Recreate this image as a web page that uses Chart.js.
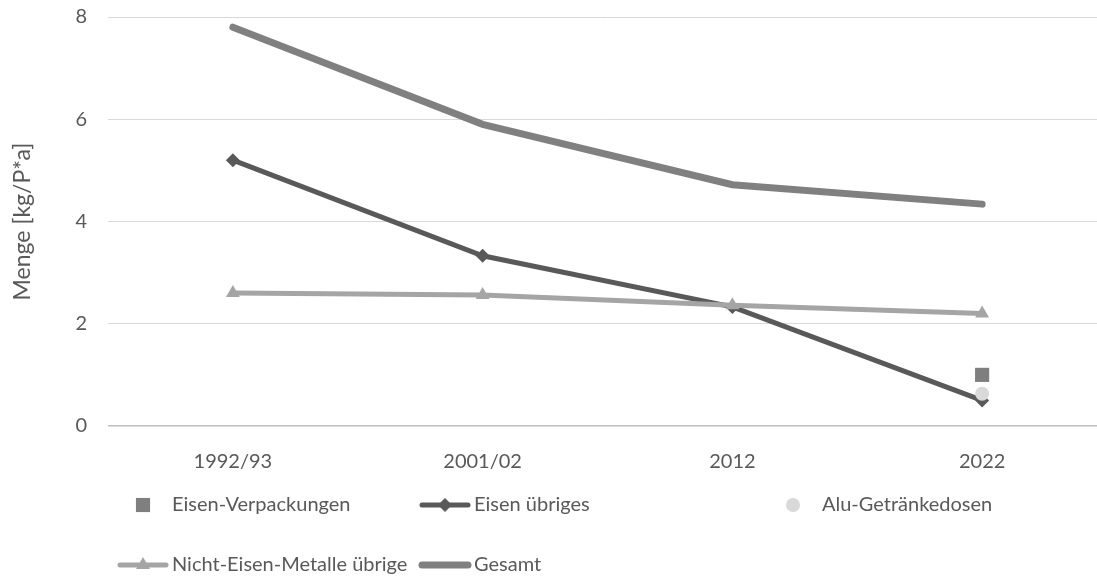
<!DOCTYPE html>
<html>
<head>
<meta charset="utf-8">
<script src="https://cdn.jsdelivr.net/npm/chart.js@4"></script>
<style>
  html, body { margin: 0; padding: 0; overflow: hidden; background: #fff; }
  #wrap { position: relative; width: 1117px; height: 579px; }
</style>
</head>
<body>
<div id="wrap"><canvas id="chart"></canvas></div>
<script>
// Daten (kg pro Person und Jahr)
const jahre = ['1992/93', '2001/02', '2012', '2022']
const eisenVerpackungen = [null, null, null, 1.0]
const eisenUebriges = [5.2, 3.33, 2.33, 0.5]
const aluDosen = [null, null, null, 0.63]
const neMetalleUebrige = [2.6, 2.56, 2.36, 2.2]
const gesamt = [7.8, 5.9, 4.72, 4.34]
const yTicks = [0, 2, 4, 6, 8]

const schrift = 'Lato'
const textFarbe = '#595959'

// Legende wie in Excel: Spalten und Zeilen
const legendeSpalten = [118, 420, 768]
const legendeZeilen = [505, 565]
const legendePlatz = [[0, 0], [1, 0], [2, 0], [0, 1], [1, 1]]

const legendePlugin = {
    id: 'legendePlugin',
    afterDraw(chart) {
        const ctx = chart.ctx
        chart.data.datasets.forEach((ds, i) => {
            const [sp, ze] = legendePlatz[i]
            const x0 = legendeSpalten[sp]
            const y = legendeZeilen[ze]
            ctx.save()
            if (ds.showLine !== false) {
                ctx.strokeStyle = ds.borderColor
                ctx.lineWidth = ds.borderWidth
                ctx.lineCap = 'round'
                ctx.beginPath()
                ctx.moveTo(x0 + 2, y)
                ctx.lineTo(x0 + 48, y)
                ctx.stroke()
            }
            if (ds.pointRadius > 0) {
                ctx.fillStyle = ds.pointBackgroundColor
                ctx.strokeStyle = ds.pointBackgroundColor
                Chart.helpers.drawPoint(ctx, {
                    pointStyle: ds.pointStyle,
                    radius: ds.pointRadius,
                    rotation: 0,
                    borderWidth: 0
                }, x0 + 25, y)
            }
            ctx.fillStyle = textFarbe
            ctx.font = '20px ' + schrift
            ctx.textBaseline = 'middle'
            ctx.fillText(ds.label, x0 + 54, y)
            ctx.restore()
        })
    }
}

const daten = {
    labels: jahre,
    datasets: [
        {
            label: 'Eisen-Verpackungen',
            data: eisenVerpackungen,
            showLine: false,
            pointStyle: 'rect',
            pointRadius: 10,
            pointBorderWidth: 0,
            pointBackgroundColor: '#7f7f7f',
            borderColor: '#7f7f7f',
            order: 5
        },
        {
            label: 'Eisen übriges',
            data: eisenUebriges,
            borderColor: '#595959',
            borderWidth: 5,
            pointStyle: 'rectRot',
            pointRadius: 7,
            pointBorderWidth: 0,
            pointBackgroundColor: '#595959',
            order: 4
        },
        {
            label: 'Alu-Getränkedosen',
            data: aluDosen,
            showLine: false,
            pointStyle: 'circle',
            pointRadius: 7,
            pointBorderWidth: 0,
            pointBackgroundColor: '#d9d9d9',
            borderColor: '#d9d9d9',
            order: 3
        },
        {
            label: 'Nicht-Eisen-Metalle übrige',
            data: neMetalleUebrige,
            borderColor: '#a5a5a5',
            borderWidth: 5,
            pointStyle: 'triangle',
            pointRadius: 8,
            pointBorderWidth: 0,
            pointBackgroundColor: '#a5a5a5',
            order: 2
        },
        {
            label: 'Gesamt',
            data: gesamt,
            borderColor: '#808080',
            borderWidth: 7,
            borderCapStyle: 'round',
            pointRadius: 0,
            order: 1
        }
    ]
}

const config = {
    type: 'line',
    data: daten,
    plugins: [legendePlugin],
    options: {
        responsive: true,
        maintainAspectRatio: false,
        animation: false,
        layout: { padding: { top: 17, right: 0, bottom: 105, left: 0 } },
        plugins: {
            legend: { display: false },
            tooltip: { enabled: false }
        },
        scales: {
            x: {
                offset: true,
                grid: { display: false },
                border: { display: false },
                ticks: {
                    color: textFarbe,
                    font: { family: schrift, size: 20 },
                    padding: 16,
                    maxRotation: 0
                },
                afterFit(scale) { scale.height = 48 }
            },
            y: {
                min: 0,
                max: 8,
                afterBuildTicks(scale) { scale.ticks = yTicks.map(v => ({ value: v })) },
                grid: {
                    color: (c) => c.tick && c.tick.value === 0 ? '#bfbfbf' : '#d9d9d9',
                    lineWidth: (c) => c.tick && c.tick.value === 0 ? 1.5 : 1,
                    drawTicks: false
                },
                border: { display: false },
                ticks: {
                    color: textFarbe,
                    font: { family: schrift, size: 20 },
                    padding: 21
                },
                title: {
                    display: true,
                    text: 'Menge [kg/P*a]',
                    color: textFarbe,
                    font: { family: schrift, size: 23 },
                    padding: { top: 9, bottom: 0 }
                },
                afterFit(scale) {
                    scale.width = 108
                    scale.paddingTop = 0
                    scale.paddingBottom = 0
                }
            }
        }
    }
}

new Chart(document.getElementById('chart'), config)
</script>
</body>
</html>
